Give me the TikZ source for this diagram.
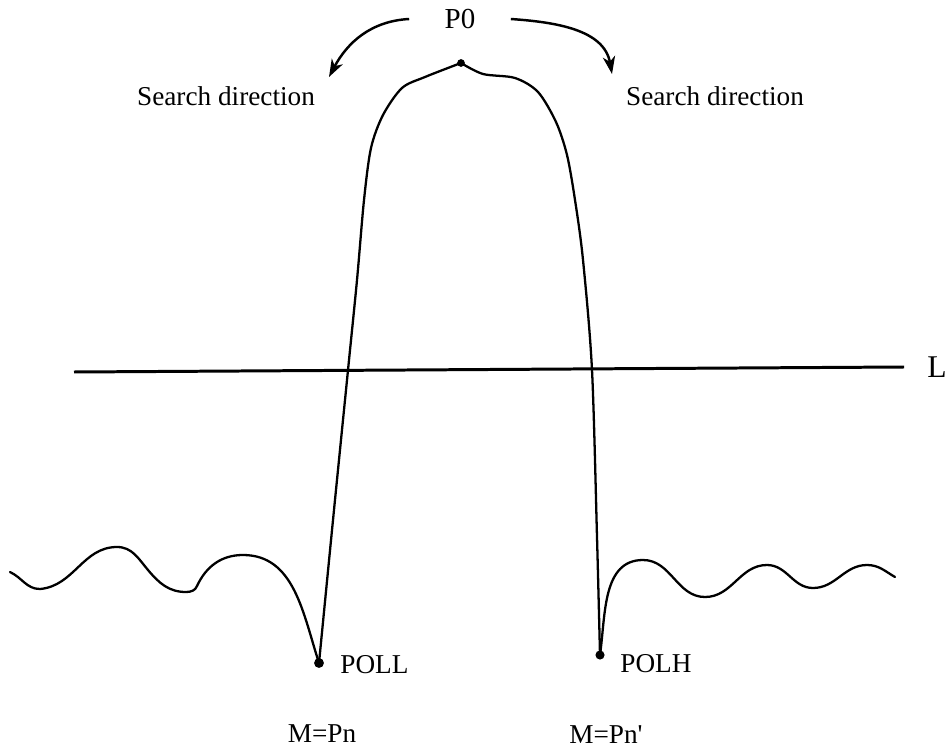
\documentclass[tikz,border=0pt]{standalone}
\usepackage{fontspec}
\setmainfont{Liberation Serif}
\usetikzlibrary{arrows.meta}
\tikzset{
  curve/.style={line width=1.3pt,line join=round,line cap=round},
  searcharrow/.style={line width=1.4pt,-{Stealth[length=10pt,width=7pt,inset=3pt]}},
  lbl/.style={font=\fontsize{15.5}{18}\selectfont,inner sep=0pt},
  pointdot/.style={fill=black}
}
\begin{document}
\begin{tikzpicture}[x=0.02cm,y=-0.02cm]
  \useasboundingbox (0,0) rectangle (945,749);
  % labels
  \node[lbl,font=\fontsize{16.5}{18}\selectfont] (p0) at (460,19) {P0};
  \node[lbl] (sdleft) at (226,96) {Search direction};
  \node[lbl] (sdright) at (715,96) {Search direction};
  \node[lbl,font=\fontsize{18}{20}\selectfont] (llabel) at (937,367) {L};
  \node[lbl,anchor=west] (pollname) at (340,665) {POLL};
  \node[lbl,anchor=west] (polhname) at (620,664) {POLH};
  \node[lbl] (mleft) at (322,734) {M=Pn};
  \node[lbl] (mright) at (606,735) {M=Pn\textquotesingle};
  % key points
  \coordinate (top) at (461,63);
  \coordinate (poll) at (319,663);
  \coordinate (polh) at (600,655);
  \coordinate (lstart) at (74,372);
  \coordinate (lend) at (904,367);
  \coordinate (arrl) at (329,77);
  \coordinate (arrr) at (612,74);
  % search arrows
  \draw[searcharrow] ([xshift=-20pt]p0.west) to[out=183,in=62] (arrl);
  \draw[searcharrow] ([xshift=20pt]p0.east) to[out=-4,in=100] (arrr);
  % level line
  \draw[line width=1.7pt] (lstart) -- (lend);
  % response curve
  \draw[curve] (10,572) to[out=-25,in=180] (40,589) to[out=5,in=180] (117,547)
    to[out=0,in=130] (148,570) to[out=-50,in=180] (186,592) to[out=0,in=-110] (197,586)
    to[out=65,in=180] (243,555) to[out=0,in=108] (poll);
  \draw[curve] plot[smooth,tension=0.5] coordinates {(poll) (333,520) (348,370) (357,280) (364,200) (371,148) (383,115) (402,88) (425,77) (top)};
  \draw[curve] plot[smooth,tension=0.5] coordinates {(top) (483,74) (515,78) (538,92) (556,122) (567,155) (575,200) (583,260) (592,370) (597,537) (polh)};
  \draw[curve] (polh) to[out=82,in=180] (643,560) to[out=0,in=180] (705,597)
    to[out=0,in=180] (767,565) to[out=0,in=180] (813,588) to[out=0,in=180] (867,565)
    to[out=0,in=150] (895,577);
  % marked points
  \fill[pointdot] (top) circle[radius=2.2pt];
  \fill[pointdot] (poll) circle[radius=2.8pt];
  \fill[pointdot] (polh) circle[radius=2.6pt];
\end{tikzpicture}
\end{document}
